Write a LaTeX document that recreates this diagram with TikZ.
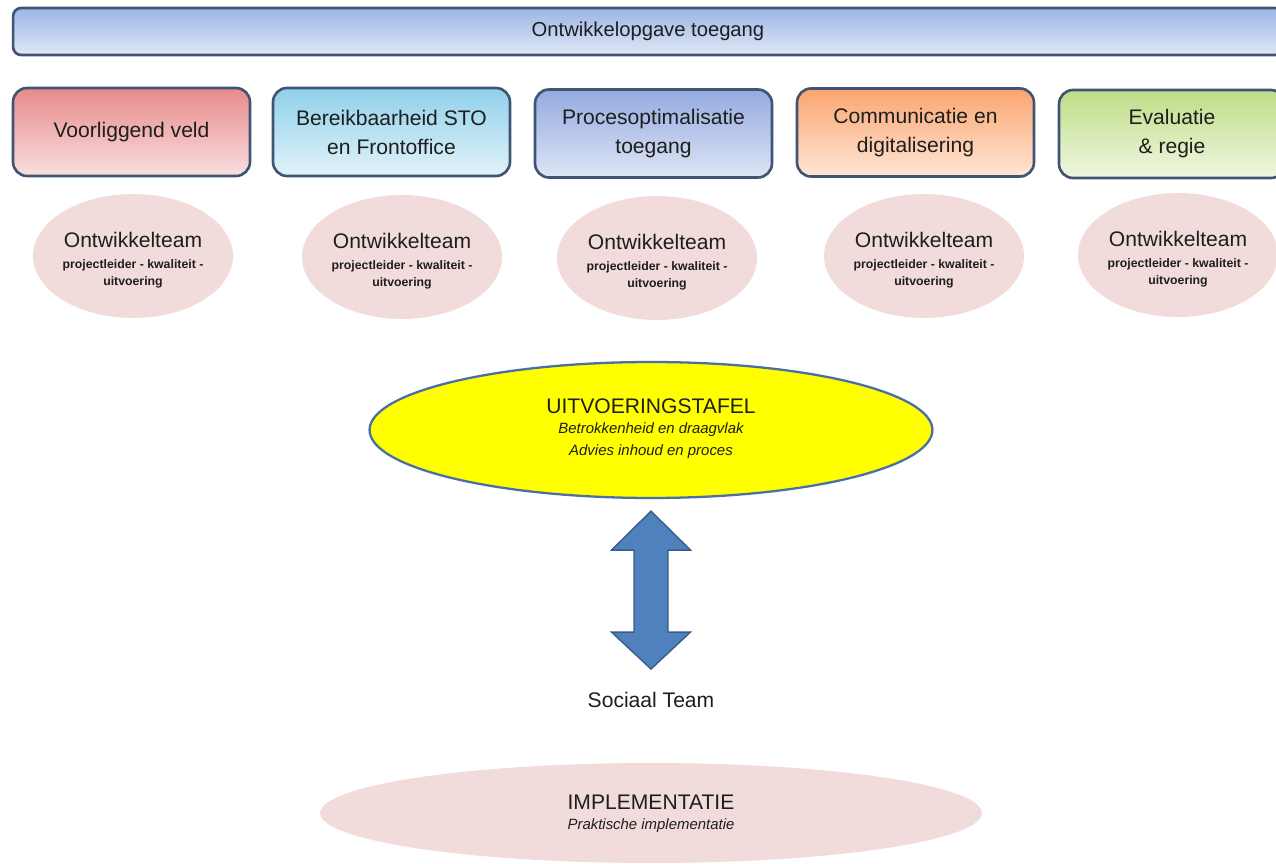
\documentclass[tikz,border=0pt]{standalone}
\usepackage{fontspec}
\setmainfont{Liberation Sans}
\usetikzlibrary{calc, shapes, arrows}
\definecolor{edgeblue}{HTML}{3F5573}
\definecolor{barTop}{HTML}{9DB5E5}
\definecolor{barBot}{HTML}{E0E8F6}
\definecolor{redTop}{HTML}{E8898A}
\definecolor{redBot}{HTML}{F9E0E0}
\definecolor{cyanTop}{HTML}{8FD0EA}
\definecolor{cyanBot}{HTML}{E2F3FA}
\definecolor{blueTop}{HTML}{94AAE0}
\definecolor{blueBot}{HTML}{DEE5F5}
\definecolor{orangeTop}{HTML}{FBA56F}
\definecolor{orangeBot}{HTML}{FEE6D6}
\definecolor{greenTop}{HTML}{BEDD86}
\definecolor{greenBot}{HTML}{F0F7E2}
\definecolor{teamPink}{HTML}{F2DCDB}
\definecolor{tafelEdge}{HTML}{4A6FA5}
\definecolor{tafelFill}{HTML}{FFFF00}
\definecolor{arrowFill}{HTML}{4F81BD}
\definecolor{arrowEdge}{HTML}{385D8A}
\definecolor{inkGray}{HTML}{1E1E1E}

\begin{document}
\begin{tikzpicture}[x=0.02cm,y=-0.02cm,
	every node/.style={text=inkGray},
	taskbox/.style={draw=edgeblue, line width=1.5pt, rounded corners=0.28cm,
		minimum width=4.74cm, minimum height=1.76cm, align=center,
		shading angle=40, font=\fontsize{12}{16.5}\selectfont},
	teamell/.style={ellipse, fill=teamPink, minimum width=4cm, minimum height=2.48cm},
	blockarrow/.style={fill=arrowFill, draw=arrowEdge, line width=0.8pt, line join=miter}]
	\newcommand{\myfontteam}[1]{
		\fontsize{12}{14}\selectfont{#1}
	}\newcommand{\myfontsub}[1]{
		\fontsize{8.5}{12}\selectfont\itshape{#1}
	}
	\useasboundingbox (0,0) rectangle (1276,864);
	\clip (0,0) rectangle (1276,864);
	%Bar at the top
	\node [taskbox, minimum width=25.4cm, minimum height=0.94cm, rounded corners=0.16cm,
		top color=barTop, bottom color=barBot, shading angle=0,
		font=\fontsize{11.5}{14}\selectfont] (opgave) at (648,31.5) {Ontwikkelopgave toegang};
	%Row of the five themes
	\node [taskbox, top color=redTop, bottom color=redBot] (voorliggend) at (131.5,132) {Voorliggend veld};
	\node [taskbox, top color=cyanTop, bottom color=cyanBot] (bereik) at (391.5,132) {Bereikbaarheid STO\\en Frontoffice};
	\node [taskbox, top color=blueTop, bottom color=blueBot] (proces) at (653.5,133.5) {Procesoptimalisatie\\toegang};
	\node [taskbox, top color=orangeTop, bottom color=orangeBot] (communicatie) at (915.5,132.5) {Communicatie en\\digitalisering};
	\node [taskbox, minimum width=4.52cm, top color=greenTop, bottom color=greenBot] (evaluatie) at (1172,134) {Evaluatie\\\& regie};
	%Development teams below the themes
	\foreach \i/\x/\y in {1/133/256, 2/402/257, 3/657/258, 4/924/256, 5/1178/255} {
		\node [teamell] (team\i) at (\x,\y) {};
		\node [] (teamname\i) at ($(team\i.center)+(0,-16)$) {\myfontteam{Ontwikkelteam}};
		\node [align=center, font=\fontsize{7}{9.8}\selectfont\bfseries] (teamrole\i) at ($(team\i.center)+(0,18)$) {projectleider - kwaliteit -\\uitvoering};
	}
	%Uitvoeringstafel
	\node [ellipse, fill=tafelFill, draw=tafelEdge, line width=1.3pt,
		minimum width=11.26cm, minimum height=2.72cm] (tafel) at (651,430) {};
	\node [] (tafeltitle) at ($(tafel.center)+(0,-24)$) {\myfontteam{UITVOERINGSTAFEL}};
	\node [align=center, font=\fontsize{8.5}{12.5}\selectfont\itshape] (tafelsub) at ($(tafel.center)+(0,11)$) {Betrokkenheid en draagvlak\\Advies inhoud en proces};
	%Sociaal team
	\node [] (sociaal) at (651,700) {\myfontteam{Sociaal Team}};
	%Double block arrow between tafel and sociaal team
	\coordinate (arrowTop) at ($(tafel.south)+(0,12)$);
	\coordinate (arrowBot) at ($(arrowTop |- sociaal.north)+(0,-17)$);
	\draw [blockarrow] (arrowTop) -- ++(39.5,39) -- ++(-22.5,0)
		-- ($(arrowBot)+(17,-37)$) -- ++(22.5,0) -- (arrowBot)
		-- ++(-39.5,-37) -- ++(22.5,0)
		-- ($(arrowTop)+(-17,39)$) -- ++(-22.5,0) -- cycle;
	%Implementatie
	\node [ellipse, fill=teamPink, minimum width=13.24cm, minimum height=2cm] (implementatie) at (651,813) {};
	\node [] (impltitle) at ($(implementatie.center)+(0,-11)$) {\myfontteam{IMPLEMENTATIE}};
	\node [] (implsub) at ($(implementatie.center)+(0,13)$) {\myfontsub{Praktische implementatie}};
\end{tikzpicture}
\end{document}
